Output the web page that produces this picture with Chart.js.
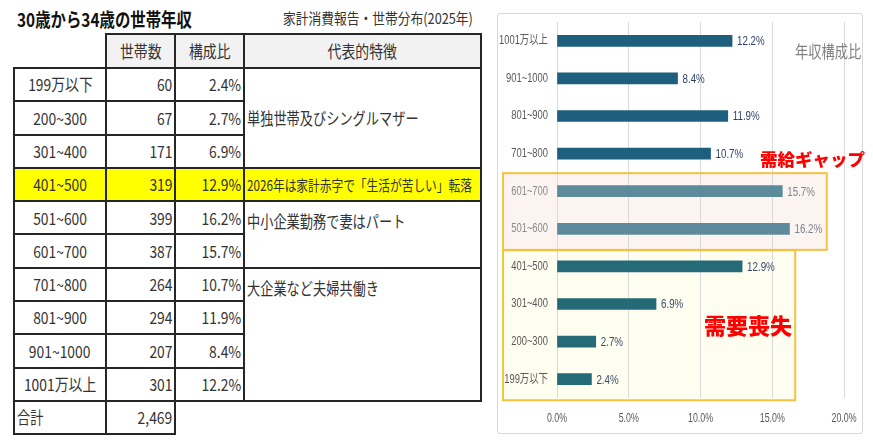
<!DOCTYPE html>
<html><head><meta charset="utf-8">
<script src="https://cdn.jsdelivr.net/npm/chart.js@4.4.1/dist/chart.umd.min.js"></script>
<style>
html,body{margin:0;padding:0;background:#fff;width:873px;height:444px;overflow:hidden;font-family:"Noto Sans CJK JP",sans-serif;}
#title{position:absolute;left:17px;top:5px;font-size:19px;font-weight:700;color:#111;white-space:nowrap;transform-origin:left center;transform:scaleX(.81);}
#source{position:absolute;left:283px;top:7px;font-size:15px;color:#333;white-space:nowrap;transform-origin:left center;transform:scaleX(.85);}
#tbl{position:absolute;left:13px;top:33px;width:467px;border-collapse:collapse;table-layout:fixed;color:#333;font-size:16.5px;}
#tbl td{border:2px solid #262626;padding:0 2px;white-space:nowrap;overflow:hidden;line-height:1;}
#tbl td.c{text-align:center}
#tbl td.r{text-align:right}
#tbl td.l{text-align:left}
#tbl td.top{vertical-align:top;padding-top:11px}
#tbl td.h{background:#f2f2f2;text-align:center}
#tbl .s{display:inline-block;transform:scaleX(.84)}
#tbl td.c .s{transform-origin:center}
#tbl td.r .s{transform-origin:right}
#tbl td.l .s{transform-origin:left;transform:scaleX(.8)}
#tbl tr.hl td{background:#ffff00}
#tbl td.none{border-top:none;border-left:none;background:transparent}
#tbl td.e3{border-right:none;border-bottom:none;background:transparent}
#tbl td.e4{border-left:none;border-right:none;border-bottom:none;background:transparent}
#frame{position:absolute;left:497px;top:13px;width:364px;height:419px;border:1px solid #d9d9d9;border-radius:3px;}
#cv{position:absolute;left:497px;top:13px;}
.note{position:absolute;white-space:nowrap;}
</style></head>
<body>
<div id="title">30歳から34歳の世帯年収</div>
<div id="source">家計消費報告・世帯分布(2025年)</div>
<table id="tbl"></table>
<div id="frame"></div>
<canvas id="cv" width="366" height="421"></canvas>
<div class="note" style="left:795px;top:38px;font-size:17px;color:#808080;transform-origin:left center;transform:scaleX(.78);">年収構成比</div>
<div class="note" style="left:760px;top:146px;font-size:17.5px;font-weight:900;color:#ff0000;">需給ギャップ</div>
<div class="note" style="left:704px;top:308px;font-size:22px;font-weight:900;color:#ff0000;">需要喪失</div>
<script>
// ---- data ----
const tableBands = ['199万以下','200~300','301~400','401~500','501~600','601~700','701~800','801~900','901~1000','1001万以上'];
const households = [60,67,171,319,399,387,264,294,207,301];
const tableShares = [2.4,2.7,6.9,12.9,16.2,15.7,10.7,11.9,8.4,12.2];
const totalHouseholds = '2,469';
const headers = ['世帯数','構成比','代表的特徴'];
const features = ['単独世帯及びシングルマザー','2026年は家計赤字で「生活が苦しい」転落','中小企業勤務で妻はパート','大企業など夫婦共働き'];
const featureSpans = [3,1,2,4];
const highlightBand = '401~500';

const categories = ['1001万以上','901~1000','801~900','701~800','601~700','501~600','401~500','301~400','200~300','199万以下'];
const shares = [12.2,8.4,11.9,10.7,15.7,16.2,12.9,6.9,2.7,2.4];
const xTickValues = [0,5,10,15,20];
const gapBands = ['601~700','501~600'];
const lossBands = ['401~500','301~400','200~300','199万以下'];

// ---- table ----
(function(){
  const t = document.getElementById('tbl');
  const colW=[92,69,69,237];
  let h='<colgroup>'+colW.map(w=>`<col style="width:${w}px">`).join('')+'</colgroup>';
  h+='<tr style="height:34px"><td class="none"></td>'+headers.map(x=>`<td class="h"><span class="s">${x}</span></td>`).join('')+'</tr>';
  let fi=0, next=0;
  tableBands.forEach((b,i)=>{
    const hl = b===highlightBand;
    h+=`<tr style="height:33.3px"${hl?' class="hl"':''}><td class="c"><span class="s">${b}</span></td><td class="r"><span class="s">${households[i]}</span></td><td class="r"><span class="s">${tableShares[i].toFixed(1)}%</span></td>`;
    if(i===next){
      const span=featureSpans[fi];
      const cls = (span===3||span===1)?'l':'l top';
      const fs = span===1?' style="font-size:15px"':'';
      h+=`<td rowspan="${span}" class="${cls}"${fs}><span class="s"${span===1?' style="transform:scaleX(.78)"':''}>${features[fi]}</span></td>`;
      next+=span; fi++;
    }
    h+='</tr>';
  });
  h+=`<tr style="height:33px"><td class="l"><span class="s">合計</span></td><td class="r"><span class="s">${totalHouseholds}</span></td><td class="e3"></td><td class="e4"></td></tr>`;
  t.innerHTML=h;
})();

// ---- chart ----
const sans = '"Liberation Sans","Noto Sans CJK JP",sans-serif';
function group(label){ return gapBands.includes(label)?'gap':(lossBands.includes(label)?'loss':'top'); }
const barColors = {top:'#1f5f7e', gap:'#5e8b9b', loss:'#246a77'};
const labelColors = {top:'#2c3e6b', gap:'#7b8590', loss:'#3c4a6a'};
const tickColors = {top:'#595959', gap:'#8a8a8a', loss:'#595959'};

const condense = {
  id:'condense',
  beforeDraw(chart){
    const factors={x:0.68,y:0.75};
    Object.keys(factors).forEach(id=>{
      const s=chart.scales[id], f=factors[id];
      if(!s || s._condensed) return;
      const orig=s.drawLabels.bind(s);
      s.drawLabels=function(area){
        const ctx=chart.ctx; const of=CanvasRenderingContext2D.prototype.fillText;
        ctx.fillText=function(t,x,y){ this.save(); this.translate(x,y); this.scale(f,1); of.call(this,t,0,0); this.restore(); };
        try{orig(area);} finally{ delete ctx.fillText; }
      };
      s._condensed=true;
    });
  }
};
const boxPlugin = {
  id:'boxes',
  boxes(chart){
    const y=chart.scales.y, x=chart.scales.x;
    const step = y.getPixelForValue(1)-y.getPixelForValue(0);
    const gi = gapBands.map(b=>categories.indexOf(b));
    const li = lossBands.map(b=>categories.indexOf(b));
    const left = 6;
    return [
      {x0:left, x1:x.getPixelForValue(16.6), y0:y.getPixelForValue(Math.min(...li))-0.43*step, y1:y.getPixelForValue(Math.max(...li))+0.56*step, fill:'#fefef0'},
      {x0:left, x1:x.getPixelForValue(18.8), y0:y.getPixelForValue(Math.min(...gi))-0.48*step, y1:y.getPixelForValue(Math.max(...gi))+0.56*step, fill:'#fcf4f0'}
    ];
  },
  beforeDraw(chart){
    const ctx=chart.ctx;
    this.boxes(chart).forEach(b=>{ctx.fillStyle=b.fill;ctx.fillRect(b.x0,b.y0,b.x1-b.x0,b.y1-b.y0);});
  },
  beforeDatasetsDraw(chart){
    const ctx=chart.ctx; ctx.save();
    ctx.strokeStyle='#f5c242'; ctx.lineWidth=2;
    this.boxes(chart).forEach(b=>{ctx.strokeRect(b.x0,b.y0,b.x1-b.x0,b.y1-b.y0);});
    ctx.restore();
  }
};
const valueLabels = {
  id:'valueLabels',
  afterDatasetsDraw(chart){
    const ctx=chart.ctx; const meta=chart.getDatasetMeta(0);
    ctx.save(); ctx.font='12.5px '+sans; ctx.textBaseline='middle'; ctx.textAlign='left';
    meta.data.forEach((el,i)=>{
      ctx.fillStyle=labelColors[group(categories[i])];
      ctx.save(); ctx.translate(el.x+5, el.y+1); ctx.scale(0.78,1);
      ctx.fillText(shares[i].toFixed(1)+'%', 0, 0);
      ctx.restore();
    });
    ctx.restore();
  }
};

new Chart(document.getElementById('cv'),{
  type:'bar',
  data:{labels:categories,datasets:[{data:shares,backgroundColor:categories.map(c=>barColors[group(c)]),barThickness:11}]},
  options:{
    indexAxis:'y',responsive:false,animation:false,devicePixelRatio:1,
    layout:{padding:{top:9,right:19,left:0,bottom:0}},
    plugins:{legend:{display:false},tooltip:{enabled:false}},
    scales:{
      x:{min:xTickValues[0],max:xTickValues[xTickValues.length-1],
         afterBuildTicks(s){s.ticks=xTickValues.map(v=>({value:v}));},
         ticks:{callback:v=>Number(v).toFixed(1)+'%',color:'#595959',font:{family:sans,size:13},padding:13},
         grid:{color:'#d9d9d9',drawTicks:false},border:{display:false},
         afterFit(s){s.height=36;s.paddingLeft=0;s.paddingRight=0;}},
      y:{ticks:{color:c=>tickColors[group(categories[c.index])],font:{family:sans,size:12.5},padding:9,autoSkip:false},
         grid:{display:false,drawTicks:false},border:{display:false},
         afterFit(s){s.width=60;s.paddingTop=0;s.paddingBottom=0;}}
    }
  },
  plugins:[condense,boxPlugin,valueLabels]
});
</script>
</body></html>
